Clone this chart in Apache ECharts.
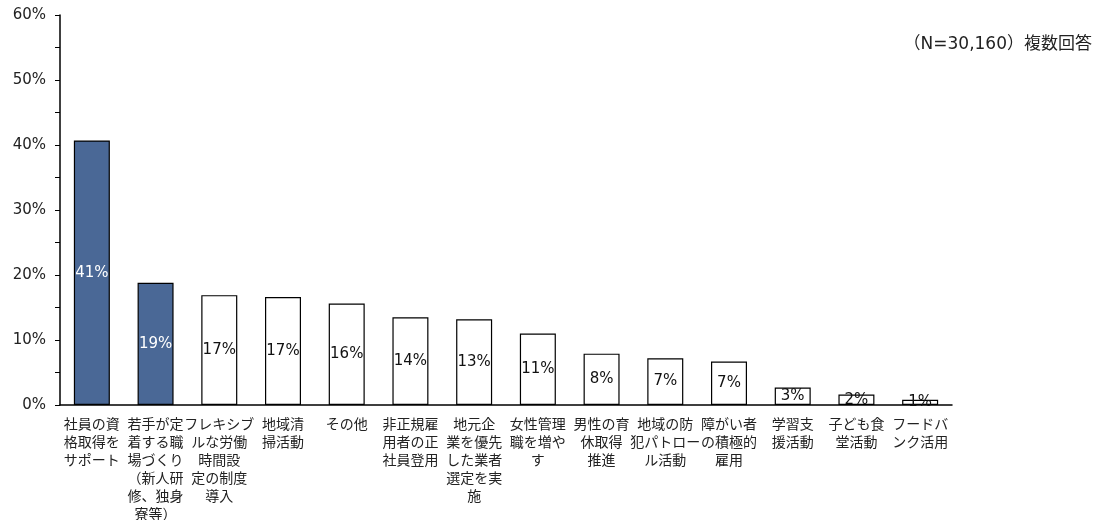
<!DOCTYPE html>
<html><head><meta charset="utf-8">
<script src="https://cdn.jsdelivr.net/npm/echarts@6/dist/echarts.min.js"></script>
<style>html,body{margin:0;padding:0;background:#fff}#c{width:1095px;height:520px}</style>
</head><body><div id="c"></div>
<script>
const categories = [
  '社員の資\n格取得を\nサポート',
  '若手が定\n着する職\n場づくり\n（新人研\n修、独身\n寮等）',
  'フレキシブ\nルな労働\n時間設\n定の制度\n導入',
  '地域清\n掃活動',
  'その他',
  '非正規雇\n用者の正\n社員登用',
  '地元企\n業を優先\nした業者\n選定を実\n施',
  '女性管理\n職を増や\nす',
  '男性の育\n休取得\n推進',
  '地域の防\n犯パトロー\nル活動',
  '障がい者\nの積極的\n雇用',
  '学習支\n援活動',
  '子ども食\n堂活動',
  'フードバ\nンク活用'
];
const values = [40.7, 18.8, 16.9, 16.6, 15.6, 13.5, 13.2, 11.0, 7.9, 7.2, 6.7, 2.7, 1.6, 0.8];
const highlighted = [true, true, false, false, false, false, false, false, false, false, false, false, false, false];
const yTicks = [0, 10, 20, 30, 40, 50, 60];
const note = '（N=30,160）複数回答';

const FONT = "'DejaVu Sans', 'Noto Sans CJK JP', sans-serif";
const chart = echarts.init(document.getElementById('c'));
chart.setOption({
  animation: false,
  textStyle: { fontFamily: FONT },
  grid: { left: 60, right: 143, top: 15, bottom: 115, containLabel: false, outerBoundsMode: 'none' },
  xAxis: {
    type: 'category', data: categories,
    axisLine: { lineStyle: { color: '#000', width: 1.5 } },
    axisTick: { show: false },
    axisLabel: { interval: 0, fontSize: 14, lineHeight: 18, color: '#222', margin: 11, fontFamily: FONT }
  },
  yAxis: {
    type: 'value', min: yTicks[0], max: yTicks[yTicks.length - 1], interval: 10,
    axisLine: { show: true, lineStyle: { color: '#000', width: 1.5 } },
    axisTick: { show: true, length: 5, lineStyle: { color: '#000' } },
    minorTick: { show: true, splitNumber: 2, length: 5, lineStyle: { color: '#000' } },
    splitLine: { show: false },
    axisLabel: { fontSize: 15, color: '#222', margin: 14, formatter: v => v + '%', fontFamily: FONT }
  },
  series: [{
    type: 'bar', barWidth: 36,
    data: values.map((v, i) => ({
      value: v,
      itemStyle: { color: highlighted[i] ? '#4A6896' : '#fff', borderColor: '#000', borderWidth: 1.2 },
      label: { color: highlighted[i] ? '#fff' : '#111' }
    })),
    label: {
      show: true, position: 'inside', fontSize: 15, fontFamily: FONT,
      formatter: p => Math.round(p.value) + '%'
    }
  }],
  graphic: [{
    type: 'text', right: 3, top: 36,
    style: { text: note, fill: '#222', font: '17px ' + FONT }
  }]
});
</script></body></html>
